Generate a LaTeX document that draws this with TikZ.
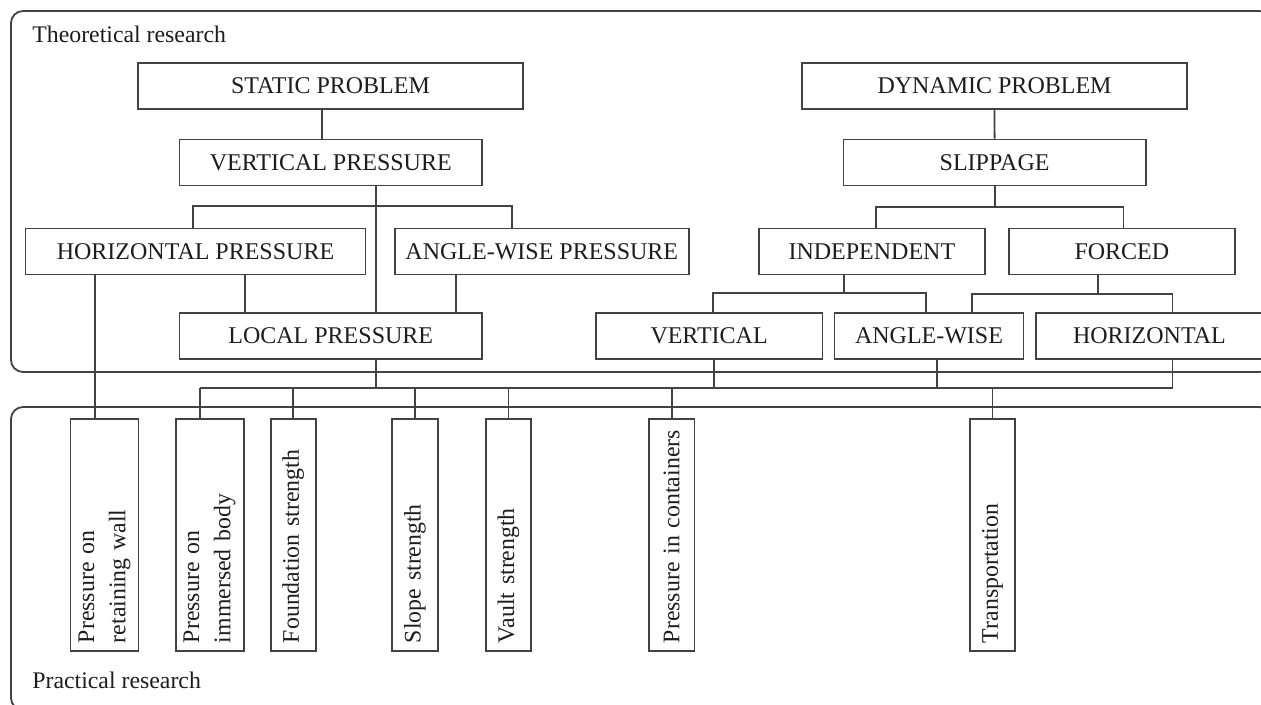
\documentclass[tikz,border=0pt]{standalone}
\usepackage{fontspec}
\setmainfont{Liberation Serif}
\usetikzlibrary{calc}
\definecolor{linecolor}{RGB}{66,66,66}
\definecolor{textcolor}{RGB}{30,28,28}
\tikzset{
  area frame/.style={
    draw=linecolor,
    line width=0.9pt,
    rounded corners=6pt
  },
  area label/.style={
    anchor=base west,
    inner sep=0pt,
    text=textcolor,
    font=\fontsize{11.9pt}{14pt}\selectfont
  },
  topic box/.style={
    draw=linecolor,
    line width=0.9pt,
    minimum height=23pt,
    inner sep=0pt,
    text=textcolor,
    font=\fontsize{12pt}{14pt}\selectfont
  },
  use box/.style={
    draw=linecolor,
    line width=0.9pt,
    rotate=90,
    minimum height=22.7pt,
    text width=108pt,
    inner xsep=4pt,
    inner ysep=2pt,
    align=left,
    text=textcolor,
    font=\fontsize{11.9pt}{15.6pt}\selectfont
  },
  link/.style={
    draw=linecolor,
    line width=0.9pt
  }
}

\begin{document}
\begin{tikzpicture}[x=0.5pt, y=-0.5pt]

  \useasboundingbox[fill=white] (0,0) rectangle (1261,705);

  % Research areas
  \draw[area frame] (11,11) rectangle (1271,372);
  \draw[area frame] (11,407) rectangle (1271,710);
  \node[area label] (theory) at (32,43) {Theoretical research};
  \node[area label] (practice) at (32,688) {Practical research};

  % Static problem
  \node[topic box, minimum width=192.5pt] at (330.5,86) (static) {STATIC PROBLEM};
  \node[topic box, minimum width=151.25pt] at (330.75,162.5) (vpres) {VERTICAL PRESSURE};
  \node[topic box, minimum width=170pt] at (195.5,251.5) (hpres) {HORIZONTAL PRESSURE};
  \node[topic box, minimum width=147.2pt] at (541.8,251.5) (apres) {ANGLE-WISE PRESSURE};
  \node[topic box, minimum width=151.25pt] at (330.75,336) (lpres) {LOCAL PRESSURE};

  % Dynamic problem
  \node[topic box, minimum width=192.5pt] at (994.5,86) (dynamic) {DYNAMIC PROBLEM};
  \node[topic box, minimum width=151.1pt] at (994.6,162.5) (slip) {SLIPPAGE};
  \node[topic box, minimum width=113.15pt] at (871.85,251.5) (indep) {INDEPENDENT};
  \node[topic box, minimum width=113.15pt] at (1121.85,251.5) (forced) {FORCED};
  \node[topic box, minimum width=113.4pt] at (709.1,336) (vert) {VERTICAL};
  \node[topic box, minimum width=94.5pt] at (929,336) (angle) {ANGLE-WISE};
  \node[topic box, minimum width=113.4pt] at (1149.4,336) (horiz) {HORIZONTAL};

  % Applications
  \node[use box, minimum height=34pt] at (104.5,535) (wall) {Pressure on\\retaining wall};
  \node[use box, minimum height=34pt] at (209.6,535) (body) {Pressure on\\immersed body};
  \node[use box] at (293.3,535) (found) {Foundation strength};
  \node[use box] at (415,535) (slope) {Slope strength};
  \node[use box] at (508.4,535) (vault) {Vault strength};
  \node[use box] at (671.7,535) (cont) {\mbox{Pressure in containers}};
  \node[use box] at (992.4,535) (trans) {Transportation};

  % Branch points
  \coordinate (vsplit) at (376,206);
  \coordinate (ssplit) at (995,207);
  \coordinate (isplit) at (844,293);
  \coordinate (fsplit) at (1098,294);
  \coordinate (busl) at (200,388);
  \coordinate (busr) at (1172.5,388);

  % Static links
  \draw[link] (static.south -| 322,0) -- (vpres.north -| 322,0);
  \draw[link] (vpres.south -| vsplit) -- (lpres.north -| vsplit);
  \draw[link] (hpres.north -| 193,0) |- (vsplit) -| (apres.north -| 512,0);
  \draw[link] (hpres.south -| 244.6,0) -- (lpres.north -| 244.6,0);
  \draw[link] (apres.south -| 456,0) -- (lpres.north -| 456,0);
  \draw[link] (hpres.south -| 95,0) -- (wall.east -| 95,0);
  \draw[link] (lpres.south -| vsplit) -- (vsplit |- busl);

  % Dynamic links
  \draw[link] (dynamic.south) -- (slip.north);
  \draw[link] (slip.south) -- (slip.south |- ssplit);
  \draw[link] (indep.north -| 876,0) |- (ssplit) -| (forced.north -| 1123.4,0);
  \draw[link] (indep.south -| isplit) -- (isplit);
  \draw[link] (vert.north -| 713,0) |- (isplit) -| (angle.north -| 926,0);
  \draw[link] (forced.south -| fsplit) -- (fsplit);
  \draw[link] (angle.north -| 971.6,0) |- (fsplit) -| (horiz.north -| busr);

  % Bus to applications
  \draw[link] (busl) -- (busr);
  \draw[link] (vert.south -| 714,0) -- (busl -| 714,0);
  \draw[link] (angle.south -| 937,0) -- (busl -| 937,0);
  \draw[link] (horiz.south -| busr) -- (busr);
  \draw[link] (busl) -- (body.east -| busl);
  \foreach \n in {found,slope,vault,cont,trans}
    \draw[link] (busl -| \n.east) -- (\n.east);

\end{tikzpicture}
\end{document}
